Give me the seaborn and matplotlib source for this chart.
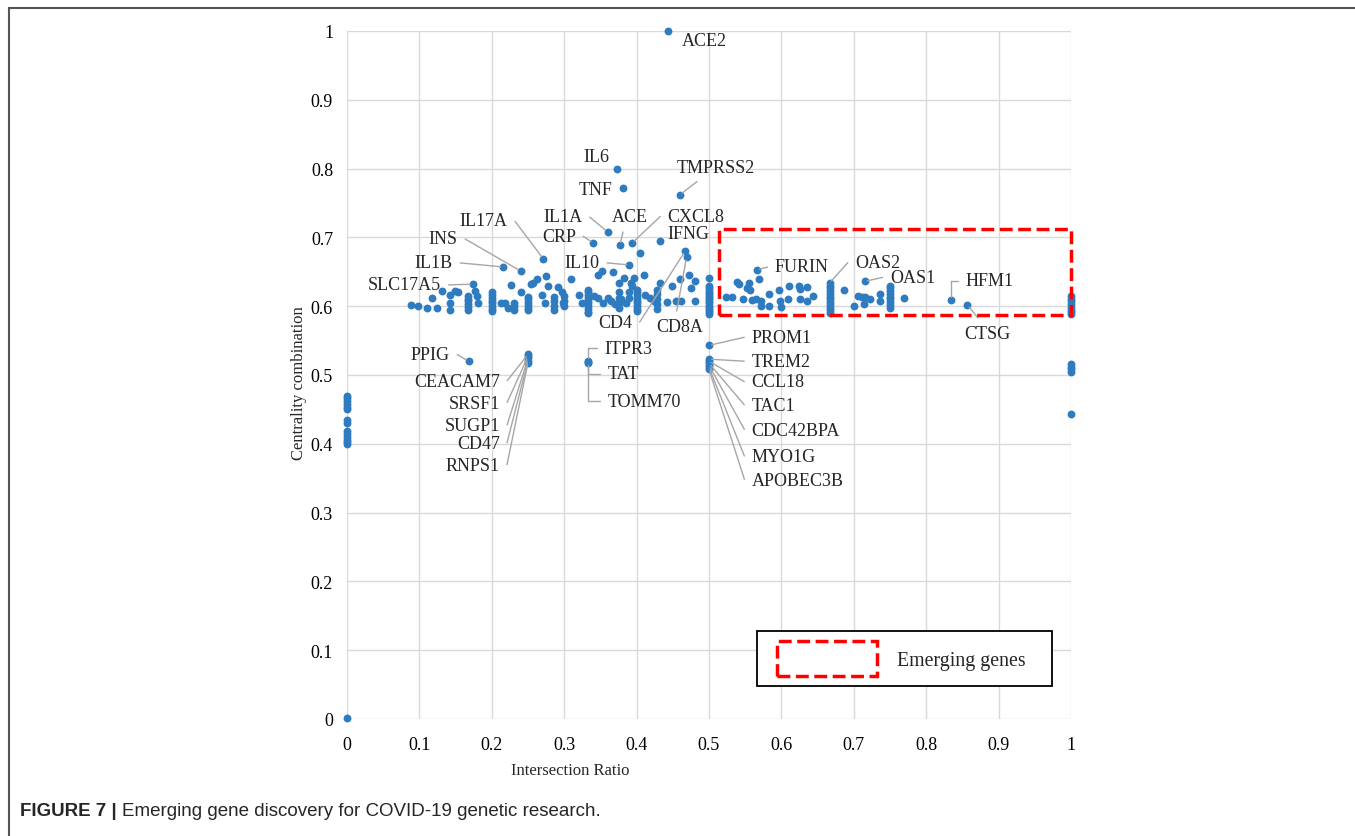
import numpy as np
import pandas as pd
import matplotlib
matplotlib.use("Agg")
import matplotlib.pyplot as plt
import seaborn as sns
from matplotlib.patches import Rectangle, Patch
from matplotlib.lines import Line2D
from matplotlib.legend_handler import HandlerPatch

# genes that share one intersection ratio (vertical stacks)
stack_ratio = [0.0, 0.1429, 0.1667, 0.2, 0.2308, 0.25, 0.2857, 0.3, 0.3333,
               0.375, 0.4, 0.4286, 0.5, 0.6667, 0.75, 1.0]
stack_scores = [
    [0.470, 0.466, 0.462, 0.458, 0.454, 0.450, 0.434, 0.430, 0.418, 0.414,
     0.410, 0.406, 0.402, 0.399, 0.002],
    [0.616, 0.605, 0.595],
    [0.615, 0.611, 0.607, 0.603, 0.599, 0.595],
    [0.620, 0.616, 0.612, 0.608, 0.604, 0.600, 0.596, 0.593],
    [0.605, 0.600, 0.595],
    [0.614, 0.610, 0.606, 0.602, 0.598, 0.594],
    [0.613, 0.607, 0.601, 0.595],
    [0.615, 0.607, 0.600],
    [0.624, 0.620, 0.616, 0.612, 0.608, 0.604, 0.600, 0.596, 0.592, 0.590],
    [0.620, 0.612, 0.604, 0.598],
    [0.624, 0.620, 0.616, 0.612, 0.608, 0.604, 0.600, 0.596, 0.593],
    [0.618, 0.610, 0.603, 0.596],
    [0.641, 0.630, 0.626, 0.622, 0.619, 0.616, 0.613, 0.610, 0.607, 0.604,
     0.601, 0.598, 0.595, 0.592, 0.589],
    [0.630, 0.626, 0.622, 0.618, 0.614, 0.610, 0.606, 0.602, 0.598, 0.594, 0.590],
    [0.630, 0.626, 0.622, 0.618, 0.614, 0.610, 0.606, 0.602, 0.598],
    [0.615, 0.611, 0.607, 0.603, 0.599, 0.595, 0.591, 0.589,
     0.516, 0.512, 0.508, 0.505, 0.443],
]

# other unlabeled genes
other_ratio = [0.089, 0.098, 0.111, 0.117, 0.125, 0.131, 0.149, 0.154, 0.177, 0.180,
               0.181, 0.213, 0.218, 0.223, 0.226, 0.241, 0.254, 0.257, 0.262, 0.269,
               0.274, 0.275, 0.277, 0.291, 0.297, 0.299, 0.309, 0.320, 0.324, 0.341,
               0.347, 0.347, 0.352, 0.354, 0.360, 0.365, 0.368, 0.370, 0.375, 0.378,
               0.382, 0.385, 0.389, 0.389, 0.392, 0.394, 0.397, 0.405, 0.410, 0.412,
               0.419, 0.424, 0.428, 0.433, 0.442, 0.449, 0.455, 0.460, 0.462, 0.472,
               0.475, 0.481, 0.481,
               0.523, 0.532, 0.538, 0.542, 0.547, 0.552, 0.555, 0.556, 0.559, 0.565,
               0.569, 0.572, 0.572, 0.583, 0.583, 0.597, 0.598, 0.599, 0.610, 0.609,
               0.624, 0.625, 0.625, 0.635, 0.635, 0.643, 0.687, 0.700, 0.706, 0.712,
               0.716, 0.714, 0.722, 0.736, 0.736, 0.769]
other_score = [0.602, 0.601, 0.597, 0.612, 0.597, 0.622, 0.622, 0.620, 0.622, 0.615,
               0.604, 0.605, 0.605, 0.598, 0.631, 0.621, 0.632, 0.634, 0.640, 0.617,
               0.605, 0.644, 0.629, 0.628, 0.620, 0.605, 0.639, 0.617, 0.605, 0.615,
               0.612, 0.646, 0.651, 0.605, 0.612, 0.607, 0.650, 0.603, 0.634, 0.610,
               0.641, 0.605, 0.620, 0.612, 0.634, 0.629, 0.641, 0.677, 0.645, 0.616,
               0.612, 0.607, 0.624, 0.634, 0.606, 0.629, 0.607, 0.639, 0.607, 0.646,
               0.627, 0.637, 0.608,
               0.614, 0.613, 0.635, 0.632, 0.611, 0.627, 0.633, 0.624, 0.609, 0.611,
               0.640, 0.608, 0.600, 0.618, 0.601, 0.624, 0.608, 0.599, 0.630, 0.611,
               0.630, 0.625, 0.611, 0.628, 0.607, 0.615, 0.623, 0.601, 0.615, 0.614,
               0.614, 0.603, 0.611, 0.618, 0.607, 0.612]

# labeled genes
genes = ["ACE2", "IL6", "TNF", "TMPRSS2", "IL1A", "ACE", "CXCL8", "CRP", "IFNG",
         "IL17A", "INS", "IL1B", "SLC17A5", "IL10", "CD4", "CD8A", "PPIG",
         "CEACAM7", "SRSF1", "SUGP1", "CD47", "RNPS1", "ITPR3", "TAT", "TOMM70",
         "PROM1", "TREM2", "CCL18", "TAC1", "CDC42BPA", "MYO1G", "APOBEC3B",
         "FURIN", "OAS2", "OAS1", "HFM1", "CTSG"]
gene_ratio = [0.443, 0.373, 0.381, 0.460, 0.360, 0.377, 0.394, 0.340, 0.432,
              0.271, 0.240, 0.216, 0.174, 0.390, 0.467, 0.469, 0.168,
              0.25, 0.25, 0.25, 0.25, 0.25, 0.3333, 0.3333, 0.3333,
              0.5, 0.5, 0.5, 0.5, 0.5, 0.5, 0.5,
              0.566, 0.6667, 0.715, 0.834, 0.857]
gene_score = [1.0, 0.800, 0.772, 0.762, 0.708, 0.689, 0.692, 0.692, 0.695,
              0.669, 0.651, 0.657, 0.632, 0.660, 0.680, 0.671, 0.520,
              0.530, 0.527, 0.524, 0.521, 0.518, 0.521, 0.519, 0.517,
              0.543, 0.523, 0.520, 0.517, 0.514, 0.511, 0.508,
              0.653, 0.634, 0.636, 0.609, 0.602]

# label text anchors (axes data units), alignment and leader type
label_pos = {
    "ACE2": (0.463, 0.986, "left", None), "IL6": (0.363, 0.817, "right", None),
    "TNF": (0.367, 0.770, "right", None), "TMPRSS2": (0.510, 0.802, "center", "bottom"),
    "IL1A": (0.325, 0.730, "right", "stub"), "ACE": (0.391, 0.731, "center", "bottom"),
    "CXCL8": (0.443, 0.731, "left", "stub"), "CRP": (0.316, 0.702, "right", "stub"),
    "IFNG": (0.443, 0.706, "left", None), "IL17A": (0.222, 0.724, "right", "stub"),
    "INS": (0.153, 0.698, "right", "stub"), "IL1B": (0.146, 0.663, "right", "stub"),
    "SLC17A5": (0.130, 0.631, "right", "stub"), "IL10": (0.349, 0.663, "right", "stub"),
    "CD4": (0.394, 0.576, "right", "stub"), "CD8A": (0.460, 0.570, "center", "top"),
    "PPIG": (0.142, 0.530, "right", "stub"), "CEACAM7": (0.211, 0.491, "right", "stub"),
    "SRSF1": (0.211, 0.459, "right", "stub"), "SUGP1": (0.211, 0.426, "right", "stub"),
    "CD47": (0.211, 0.400, "right", "stub"), "RNPS1": (0.211, 0.368, "right", "stub"),
    "ITPR3": (0.356, 0.539, "left", "elbow"), "TAT": (0.360, 0.502, "left", "elbow"),
    "TOMM70": (0.360, 0.462, "left", "elbow"), "PROM1": (0.559, 0.555, "left", "stub"),
    "TREM2": (0.559, 0.520, "left", "stub"), "CCL18": (0.559, 0.490, "left", "stub"),
    "TAC1": (0.559, 0.456, "left", "stub"), "CDC42BPA": (0.559, 0.420, "left", "stub"),
    "MYO1G": (0.559, 0.381, "left", "stub"), "APOBEC3B": (0.559, 0.347, "left", "stub"),
    "FURIN": (0.591, 0.657, "left", "stub"), "OAS2": (0.702, 0.664, "left", "stub"),
    "OAS1": (0.750, 0.642, "left", "stub"), "HFM1": (0.854, 0.637, "left", "elbow"),
    "CTSG": (0.885, 0.561, "center", "top"),
}

# emerging genes region
box_x = (0.514, 1.0)
box_y = (0.587, 0.712)

rows = []
for r, vals in zip(stack_ratio, stack_scores):
    for v in vals:
        rows.append((r, v))
rows += list(zip(other_ratio, other_score))
rows += list(zip(gene_ratio, gene_score))
df = pd.DataFrame(rows, columns=["ratio", "score"])

sns.set_style("white")
plt.rcParams['font.family'] = ['Liberation Serif', 'DejaVu Serif']

fig = plt.figure(figsize=(13.55, 8.37), dpi=100)
ax = fig.add_axes([347 / 1355, 1 - 720 / 837, 724 / 1355, 688 / 837])

sns.scatterplot(data=df, x="ratio", y="score", ax=ax, color="#2E7BC0", s=32,
                linewidth=0, clip_on=False, zorder=3)

ax.set_xlim(0, 1)
ax.set_ylim(0, 1)
ticks = np.round(np.arange(0, 1.01, 0.1), 1)
tick_labels = ["0" if t == 0 else ("1" if t == 1 else f"{t:.1f}") for t in ticks]
ax.set_xticks(ticks)
ax.set_xticklabels(tick_labels)
ax.set_yticks(ticks)
ax.set_yticklabels(tick_labels)
ax.grid(True, color="#D9D9D9", lw=1)
ax.set_axisbelow(True)
for sp in ax.spines.values():
    sp.set_visible(False)
ax.tick_params(length=0, labelsize=13, colors="black")
ax.tick_params(axis="y", pad=10)
ax.tick_params(axis="x", pad=12)

ax.set_xlabel("Intersection Ratio", fontsize=12)
ax.set_ylabel("Centrality combination", fontsize=12)
ax.xaxis.set_label_coords(0.308, -0.0625)
ax.yaxis.set_label_coords(-0.055, 0.49)

# emerging gene box
ax.add_patch(Rectangle((box_x[0], box_y[0]), box_x[1] - box_x[0], box_y[1] - box_y[0],
                       fill=False, edgecolor="red", lw=2.5, ls="--", clip_on=False, zorder=4))

# gene labels with leader lines
for g, gx, gy in zip(genes, gene_ratio, gene_score):
    tx, ty, ha, kind = label_pos[g]
    if kind is None:
        ax.text(tx, ty, g, ha=ha, va="center", fontsize=13)
        continue
    if kind == "stub":
        if ha == "right":
            relpos, ang = (1, 0.5), 0
        else:
            relpos, ang = (0, 0.5), 180
        conn = f"arc,angleA={ang},angleB=0,armA=7,armB=0,rad=0"
    elif kind == "elbow":
        relpos = (0, 0.5)
        conn = "angle,angleA=180,angleB=90,rad=0"
    elif kind == "bottom":
        relpos = (0.35, 0)
        conn = "arc3,rad=0"
    else:
        relpos = (0.4, 1)
        conn = "arc3,rad=0"
    ax.annotate(g, xy=(gx, gy), xytext=(tx, ty), ha=ha, va="center", fontsize=13,
                arrowprops=dict(arrowstyle="-", color="#A6A6A6", lw=1, relpos=relpos,
                                connectionstyle=conn, shrinkA=3, shrinkB=2))


# legend: dashed box handle, inset a little from the left of its slot
def dashed_box(legend, orig_handle, xdescent, ydescent, width, height, fontsize):
    w, h = 72, 25.2
    return Rectangle((-xdescent + 5.8, -ydescent + (height - h) / 2), w, h)


handle = Patch(facecolor="none", edgecolor="red", linestyle="--", linewidth=2.5,
               label="Emerging genes   ")
leg = ax.legend(handles=[handle], loc="lower right", bbox_to_anchor=(0.974, 0.048),
                frameon=True, fancybox=False, edgecolor="black", framealpha=1,
                fontsize=14.3, handlelength=6.45, handleheight=2.0, borderpad=0.6,
                handletextpad=0, borderaxespad=0,
                handler_map={Patch: HandlerPatch(patch_func=dashed_box)})
leg.get_frame().set_linewidth(1.3)

# frame around figure panel
fig.add_artist(Line2D([9 / 1355, 9 / 1355], [0, 1 - 9 / 837], color="#555555", lw=1.5))
fig.add_artist(Line2D([9 / 1355, 1], [1 - 9 / 837, 1 - 9 / 837], color="#555555", lw=1.5))

# caption
cap_font = ["Liberation Sans Narrow", "Liberation Sans", "DejaVu Sans"]
t1 = fig.text(20 / 1355, 1 - 812 / 837, "FIGURE 7 |", fontsize=13.5, weight="bold",
              family=cap_font, va="center")
fig.canvas.draw()
bb = t1.get_window_extent()
fig.text((bb.x1 + 5) / 1355, 1 - 812 / 837,
         "Emerging gene discovery for COVID-19 genetic research.",
         fontsize=13.5, family=cap_font, va="center")

fig.savefig("out.png", dpi=100)
